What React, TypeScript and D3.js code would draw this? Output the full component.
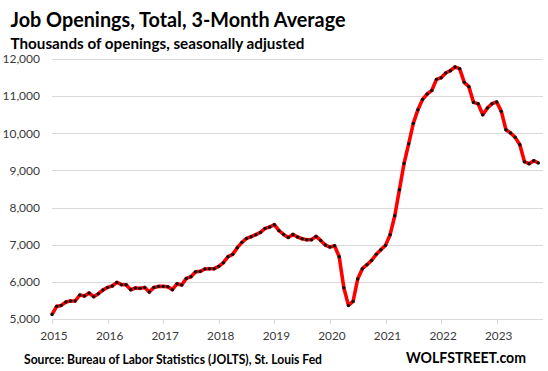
import React, { useEffect, useRef } from 'react';
import * as d3 from 'd3';

// Job openings, 3-month average, thousands (monthly, Jan 2015 .. Oct 2023)
const openings2015 = [5120, 5340, 5366, 5457, 5485, 5485, 5646, 5619, 5700, 5600, 5681, 5781];
const openings2016 = [5851, 5888, 5985, 5923, 5923, 5789, 5834, 5825, 5851, 5727, 5851, 5878];
const openings2017 = [5878, 5870, 5789, 5950, 5915, 6093, 6139, 6274, 6282, 6346, 6354, 6354];
const openings2018 = [6417, 6516, 6677, 6740, 6920, 7063, 7170, 7216, 7270, 7332, 7440, 7477];
const openings2019 = [7539, 7378, 7278, 7197, 7278, 7208, 7162, 7135, 7135, 7224, 7116, 6992];
const openings2020 = [6937, 6973, 6677, 5843, 5366, 5474, 6077, 6354, 6462, 6578, 6740, 6866];
const openings2021 = [6982, 7270, 7781, 8481, 9185, 9716, 10268, 10635, 10913, 11058, 11155, 11452];
const openings2022 = [11497, 11623, 11685, 11785, 11740, 11371, 11255, 10832, 10797, 10501, 10681, 10797];
const openings2023 = [10843, 10590, 10097, 10008, 9890, 9693, 9235, 9181, 9262, 9200];

const years = ['2015', '2016', '2017', '2018', '2019', '2020', '2021', '2022', '2023'];
const yTicks = [5000, 6000, 7000, 8000, 9000, 10000, 11000, 12000];

const title = 'Job Openings, Total, 3-Month Average';
const subtitle = 'Thousands of openings, seasonally adjusted';
const source = 'Source: Bureau of Labor Statistics (JOLTS), St. Louis Fed';
const brand = 'WOLFSTREET.com';

const values = [
  ...openings2015, ...openings2016, ...openings2017, ...openings2018, ...openings2019,
  ...openings2020, ...openings2021, ...openings2022, ...openings2023,
];

const FONT = 'Lato, "Open Sans", sans-serif';

export default function App() {
  const ref = useRef<SVGSVGElement | null>(null);

  useEffect(() => {
    const svg = d3.select(ref.current);
    svg.selectAll('*').remove();

    const x = d3.scaleLinear().domain([0, 106]).range([52, 543]);
    const y = d3.scaleLinear().domain([5000, 12000]).range([319, 59]);

    svg.append('rect').attr('width', 548).attr('height', 371).attr('fill', '#fff');

    // gridlines
    svg.append('g')
      .selectAll('line')
      .data(yTicks)
      .enter()
      .append('line')
      .attr('x1', x(0))
      .attr('x2', x(106))
      .attr('y1', (d) => Math.round(y(d)) + 0.5)
      .attr('y2', (d) => Math.round(y(d)) + 0.5)
      .attr('stroke', '#d9d9d9')
      .attr('stroke-width', 1);

    // year ticks
    svg.append('g')
      .selectAll('line')
      .data(years)
      .enter()
      .append('line')
      .attr('x1', (d, i) => Math.round(x(i * 12)) + 0.5)
      .attr('x2', (d, i) => Math.round(x(i * 12)) + 0.5)
      .attr('y1', Math.round(y(5000)))
      .attr('y2', Math.round(y(5000)) + 5)
      .attr('stroke', '#d9d9d9');

    // y labels
    svg.append('g')
      .selectAll('text')
      .data(yTicks)
      .enter()
      .append('text')
      .attr('x', 40)
      .attr('y', (d) => y(d))
      .attr('dy', '0.36em')
      .attr('text-anchor', 'end')
      .attr('font-family', FONT)
      .attr('font-size', 12)
      .attr('fill', '#3a3a3a')
      .text((d) => d3.format(',')(d));

    // x labels
    svg.append('g')
      .selectAll('text')
      .data(years)
      .enter()
      .append('text')
      .attr('x', (d, i) => x(i * 12) + 2)
      .attr('y', 340)
      .attr('text-anchor', 'middle')
      .attr('font-family', FONT)
      .attr('font-size', 11.8)
      .attr('fill', '#3a3a3a')
      .text((d) => d);

    // line
    const line = d3.line<number>()
      .x((d, i) => x(i))
      .y((d) => y(d));

    svg.append('path')
      .datum(values)
      .attr('fill', 'none')
      .attr('stroke', '#ff0000')
      .attr('stroke-width', 3.6)
      .attr('stroke-linejoin', 'round')
      .attr('d', line);

    svg.append('g')
      .selectAll('circle')
      .data(values)
      .enter()
      .append('circle')
      .attr('cx', (d, i) => x(i))
      .attr('cy', (d) => y(d))
      .attr('r', 1.7)
      .attr('fill', '#111');

    // titles
    const addText = (t: string, px: number, py: number, size: number, len: number) =>
      svg.append('text')
        .attr('x', px)
        .attr('y', py)
        .attr('font-family', FONT)
        .attr('font-weight', 'bold')
        .attr('font-size', size)
        .attr('fill', '#000')
        .attr('textLength', len)
        .attr('lengthAdjust', 'spacingAndGlyphs')
        .text(t);

    addText(title, 10.5, 27, 20, 335);
    addText(subtitle, 10.5, 49, 15, 294);
    addText(source, 24, 364, 12.5, 298);
    addText(brand, 406, 363, 14.5, 120);
  }, []);

  return (
    <svg
      ref={ref}
      width={548}
      height={371}
      style={{ position: 'fixed', left: 0, top: 0 }}
    />
  );
}
